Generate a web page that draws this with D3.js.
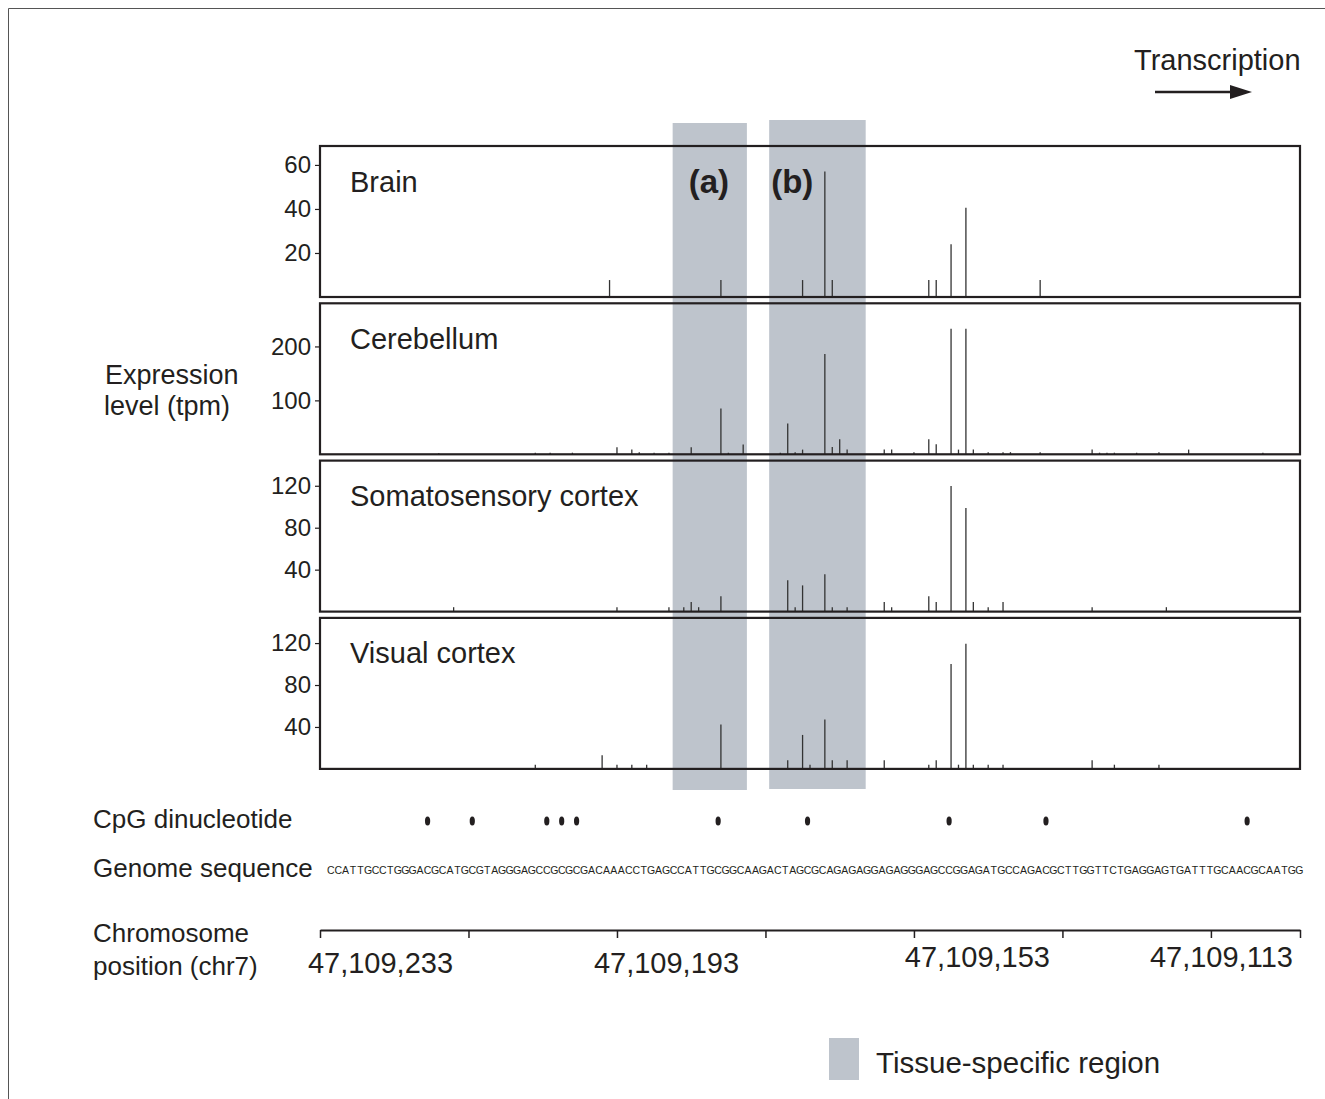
<!DOCTYPE html>
<html>
<head>
<meta charset="utf-8">
<script src="https://cdn.jsdelivr.net/npm/d3@7"></script>
<style>
  body { margin: 0; background: #fff; }
  text { font-family: "Liberation Sans", Arial, Helvetica, sans-serif; fill: #231f20; }
</style>
</head>
<body>
<script>
// tissues, top to bottom
var tissues = ['Brain', 'Cerebellum', 'Somatosensory cortex', 'Visual cortex'];

// tag positions (chr7) and expression (tpm) for every tissue
var brainPos = [47109194, 47109179, 47109168, 47109165, 47109164, 47109151, 47109150, 47109148, 47109146, 47109136];
var brainTpm = [7.7, 7.7, 7.7, 57, 7.7, 7.7, 7.7, 24, 40.5, 7.7];

var cerebellumPos = [47109217, 47109204, 47109202, 47109199, 47109193, 47109191, 47109190, 47109188, 47109186,
  47109183, 47109179, 47109178, 47109176, 47109171, 47109170, 47109169, 47109168, 47109165, 47109164, 47109163,
  47109162, 47109157, 47109156, 47109153, 47109151, 47109150, 47109148, 47109147, 47109146, 47109145, 47109143,
  47109141, 47109140, 47109136, 47109129, 47109128, 47109127, 47109126, 47109123, 47109120, 47109116, 47109106];
var cerebellumTpm = [2, 3, 3, 3, 13, 8.7, 4, 3, 3,
  13, 85, 3, 18, 3, 57, 4, 8.7, 186, 13.5, 28,
  8.7, 8.7, 8.7, 4, 28, 18.5, 233, 8.7, 233, 8.7, 4,
  4, 4, 4, 8.7, 3, 3, 3, 3, 4, 8.7, 3];

var somatoPos = [47109215, 47109193, 47109186, 47109184, 47109183, 47109182, 47109179, 47109170, 47109169, 47109168,
  47109165, 47109164, 47109162, 47109157, 47109156, 47109151, 47109150, 47109148, 47109146, 47109145,
  47109143, 47109141, 47109129, 47109119];
var somatoTpm = [4.2, 4.2, 4.2, 4.2, 9.2, 4.2, 14.6, 30, 4.2, 25,
  35.6, 4.2, 4.2, 9.2, 4.2, 14.6, 9.2, 119.7, 98.8, 9.2,
  4.2, 9.2, 4.2, 4.2];

var visualPos = [47109204, 47109195, 47109193, 47109191, 47109189, 47109179, 47109170, 47109168, 47109167, 47109165,
  47109164, 47109162, 47109157, 47109151, 47109150, 47109148, 47109147, 47109146, 47109145, 47109143,
  47109141, 47109129, 47109126, 47109120];
var visualTpm = [4, 13, 4, 4, 4, 42.3, 8.3, 32.4, 4, 47,
  8.3, 8.3, 8.3, 4, 8.3, 100, 4, 119.4, 4, 4,
  4, 8.3, 4, 4];

// y axis per tissue
var yMax   = [68.6, 280, 144, 144];
var yTicks = [[20, 40, 60], [100, 200], [40, 80, 120], [40, 80, 120]];

// tissue-specific regions (a) and (b)
var regionNames = ['(a)', '(b)'];
var regionFrom  = [47109185, 47109172];
var regionTo    = [47109176, 47109160];

// genome sequence shown under the tracks
var sequence = 'CCATTGCCTGGGACGCATGCGTAGGGAGCCGCGCGACAAACCTGAGCCATTGCGGCAAGACTAGCGCAGAGAGGAGAGGGAGCCGGAGATGCCAGACGCTTGGTTCTGAGGAGTGATTTGCAACGCAATGG';

// chromosome axis
var axisStart = 47109233, axisEnd = 47109101;
var axisTicks = d3.range(47109233, 47109100, -20).concat([axisEnd]);
var axisLabelled = [47109233, 47109193, 47109153, 47109113];

var series = [
  { pos: brainPos, tpm: brainTpm },
  { pos: cerebellumPos, tpm: cerebellumTpm },
  { pos: somatoPos, tpm: somatoTpm },
  { pos: visualPos, tpm: visualTpm }
];

var WIDTH = 1325, HEIGHT = 1099;
var left = 320, right = 1300;
var panelTop = 146, panelStep = 157.3, panelH = 151;
var ink = '#231f20', shade = '#bec4cc';

var svg = d3.select('body').append('svg')
  .attr('width', WIDTH)
  .attr('height', HEIGHT);

// outer frame of the figure (only top and left are visible)
svg.append('path')
  .attr('d', 'M8.5,1099 V8.5 H1325')
  .attr('fill', 'none')
  .attr('stroke', '#555')
  .attr('stroke-width', 1);

var x = d3.scaleLinear().domain([axisStart, axisEnd]).range([left, right]);

// shaded regions first, everything else sits on top
var regTop = [123, 120], regBottom = [790, 789];
var regions = svg.selectAll('.region')
  .data(regionNames)
  .enter().append('g');
regions.append('rect')
  .attr('x', function(d, i) { return x(regionFrom[i] + 0.5); })
  .attr('y', function(d, i) { return regTop[i]; })
  .attr('width', function(d, i) { return x(regionTo[i] - 0.5) - x(regionFrom[i] + 0.5); })
  .attr('height', function(d, i) { return regBottom[i] - regTop[i]; })
  .attr('fill', shade);
var labelDx = [16, 2];
regions.append('text')
  .attr('x', function(d, i) { return x(regionFrom[i] + 0.5) + labelDx[i]; })
  .attr('y', 193)
  .attr('font-size', 33)
  .attr('font-weight', 'bold')
  .text(function(d) { return d; });

// one panel per tissue
series.forEach(function(s, k) {
  var top = panelTop + k * panelStep;
  var y = d3.scaleLinear().domain([0, yMax[k]]).range([top + panelH, top]);
  var g = svg.append('g');

  g.selectAll('line.bar')
    .data(s.pos)
    .enter().append('line')
    .attr('class', 'bar')
    .attr('x1', function(d) { return x(d); })
    .attr('x2', function(d) { return x(d); })
    .attr('y1', y(0))
    .attr('y2', function(d, i) { return y(s.tpm[i]); })
    .attr('stroke', '#333')
    .attr('stroke-width', 1.3);

  g.append('rect')
    .attr('x', left).attr('y', top)
    .attr('width', right - left).attr('height', panelH)
    .attr('fill', 'none')
    .attr('stroke', ink)
    .attr('stroke-width', 2.2);

  var ax = g.append('g')
    .attr('transform', 'translate(' + left + ',0)')
    .call(d3.axisLeft(y).tickValues(yTicks[k]).tickSize(5).tickSizeOuter(0));
  ax.select('.domain').remove();
  ax.selectAll('line').attr('stroke', ink).attr('stroke-width', 1.2);
  ax.selectAll('text')
    .attr('x', -9)
    .attr('font-size', 24)
    .attr('font-family', '"Liberation Sans", Arial, sans-serif')
    .attr('fill', ink);

  g.append('text')
    .attr('x', 350)
    .attr('y', top + 45.5)
    .attr('font-size', 29)
    .text(tissues[k]);
});

// y title
svg.append('text').attr('x', 105).attr('y', 384).attr('font-size', 27).text('Expression');
svg.append('text').attr('x', 104).attr('y', 415).attr('font-size', 27).text('level (tpm)');

// transcription direction
svg.append('text').attr('x', 1134).attr('y', 70).attr('font-size', 29).text('Transcription');
svg.append('line')
  .attr('x1', 1155).attr('x2', 1232)
  .attr('y1', 92).attr('y2', 92)
  .attr('stroke', ink).attr('stroke-width', 2.5);
svg.append('path')
  .attr('d', 'M1230,85 L1252,92 L1230,99 Z')
  .attr('fill', ink);

// genome sequence, one letter per base, with CpG dinucleotides
var seqX = d3.scaleLinear().domain([0, sequence.length]).range([327, 1303]);
svg.append('g').selectAll('text')
  .data(sequence.split(''))
  .enter().append('text')
  .attr('x', function(d, i) { return seqX(i + 0.5); })
  .attr('y', 874)
  .attr('text-anchor', 'middle')
  .attr('font-family', '"Liberation Serif", "DejaVu Serif", serif')
  .attr('font-size', 10.5)
  .attr('fill', '#666')
  .text(function(d) { return d; });

var cpg = [];
for (var i = 0; i < sequence.length - 1; i++) {
  if (sequence.substr(i, 2) === 'CG') cpg.push(i);
}
svg.selectAll('ellipse.cpg')
  .data(cpg)
  .enter().append('ellipse')
  .attr('class', 'cpg')
  .attr('cx', function(d) { return seqX(d + 0.5); })
  .attr('cy', 821)
  .attr('rx', 2.6)
  .attr('ry', 4.6)
  .attr('fill', ink);

svg.append('text').attr('x', 93).attr('y', 828).attr('font-size', 26).text('CpG dinucleotide');
svg.append('text').attr('x', 93).attr('y', 877).attr('font-size', 26).text('Genome sequence');
svg.append('text').attr('x', 93).attr('y', 942).attr('font-size', 26).text('Chromosome');
svg.append('text').attr('x', 93).attr('y', 975).attr('font-size', 26).text('position (chr7)');

// chromosome position axis
var xAxis = svg.append('g')
  .attr('transform', 'translate(0,930)')
  .call(d3.axisBottom(x)
    .tickValues(axisTicks)
    .tickSize(8)
    .tickSizeOuter(0)
    .tickFormat(function(d) { return axisLabelled.indexOf(d) >= 0 ? d3.format(',')(d) : ''; }));
xAxis.select('.domain').attr('stroke', ink).attr('stroke-width', 2.2);
xAxis.selectAll('line').attr('stroke', ink).attr('stroke-width', 1.5);
var nudgeX = { 47109233: 60, 47109193: 49, 47109153: 63, 47109113: 10 };
var nudgeY = { 47109233: 0, 47109193: 0, 47109153: -6, 47109113: -6 };
xAxis.selectAll('text')
  .attr('font-size', 29)
  .attr('font-family', '"Liberation Sans", Arial, sans-serif')
  .attr('fill', ink)
  .attr('dy', null)
  .attr('y', function(d) { return 43 + (nudgeY[d] || 0); })
  .attr('x', function(d) { return nudgeX[d] || 0; });

// legend
svg.append('rect').attr('x', 829).attr('y', 1038).attr('width', 30).attr('height', 42).attr('fill', shade);
svg.append('text').attr('x', 876).attr('y', 1073).attr('font-size', 29.5).text('Tissue-specific region');
</script>
</body>
</html>
